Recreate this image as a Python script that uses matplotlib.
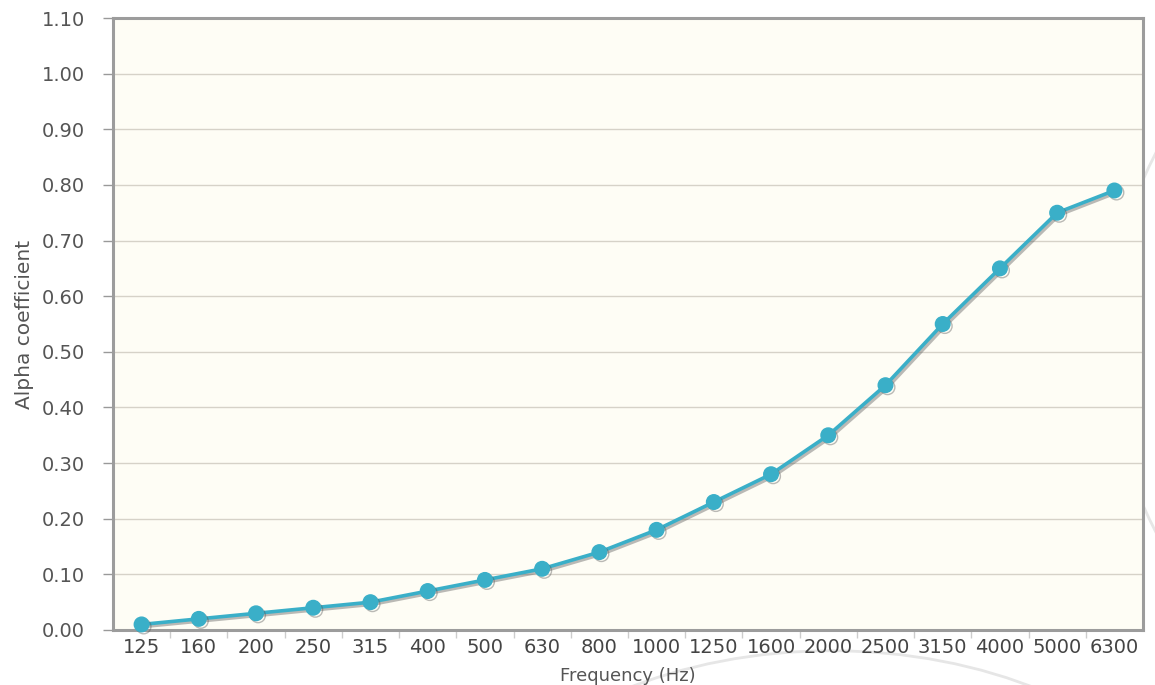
"""Alpha coefficient versus frequency."""

import matplotlib
matplotlib.use("Agg")
import matplotlib.pyplot as plt
import matplotlib.patheffects as pe
from matplotlib.patches import Arc

frequencies = ["125", "160", "200", "250", "315", "400", "500", "630", "800",
               "1000", "1250", "1600", "2000", "2500", "3150", "4000", "5000", "6300"]
alpha = [0.01, 0.02, 0.03, 0.04, 0.05, 0.07, 0.09, 0.11, 0.14,
         0.18, 0.23, 0.28, 0.35, 0.44, 0.55, 0.65, 0.75, 0.79]
yticks = [0.0, 0.1, 0.2, 0.3, 0.4, 0.5, 0.6, 0.7, 0.8, 0.9, 1.0, 1.1]


def main() -> None:
    fig = plt.figure(figsize=(11.55, 6.85), dpi=100)
    fig.patch.set_facecolor("white")

    # faint watermark arcs, only visible outside the plot area
    for cx, cy, w, h, t1, t2 in [(1.46, 0.5, 1.0, 1.4, 120, 240),
                                 (0.72, -0.35, 0.7, 0.8, 30, 150)]:
        fig.patches.append(Arc((cx, cy), w, h, theta1=t1, theta2=t2,
                               transform=fig.transFigure, color="#e6e6e6",
                               lw=2, zorder=-1))

    ax = fig.add_axes([0.0978, 0.0803, 0.8918, 0.8934])
    ax.set_facecolor("#fefdf5")
    x = list(range(len(frequencies)))
    ax.plot(x, alpha, color="#3aafc8", lw=2.6, marker="o", markersize=10.5,
            zorder=3, clip_on=False,
            path_effects=[pe.SimpleLineShadow(offset=(1.5, -1.5),
                                              shadow_color="#555555", alpha=0.4),
                          pe.Normal()])

    ax.set_xlim(-0.5, len(frequencies) - 0.5)
    ax.set_ylim(0, 1.1)
    ax.set_yticks(yticks)
    ax.set_yticklabels([f"{v:.2f}" for v in yticks])
    ax.set_xticks(x)
    ax.set_xticklabels(frequencies)
    ax.set_xticks([i + 0.5 for i in x[:-1]], minor=True)
    ax.tick_params(axis="x", which="major", length=0, pad=6,
                   labelsize=14, labelcolor="#444444")
    ax.tick_params(axis="x", which="minor", length=6, width=1, color="#cccccc")
    ax.tick_params(axis="y", length=7, width=1, color="#999999", pad=13,
                   labelsize=14, labelcolor="#555555")

    ax.grid(axis="y", color="#d6d2c8", lw=1)
    ax.set_axisbelow(True)
    for side in ax.spines.values():
        side.set_color("#9c9c9c")
        side.set_linewidth(2.2)

    ax.set_xlabel("Frequency (Hz)", fontsize=13, color="#555555", labelpad=7)
    ax.set_ylabel("Alpha coefficient", fontsize=14.5, color="#555555", labelpad=6)

    fig.savefig("out.png", dpi=100)
    plt.close(fig)


if __name__ == "__main__":
    main()
